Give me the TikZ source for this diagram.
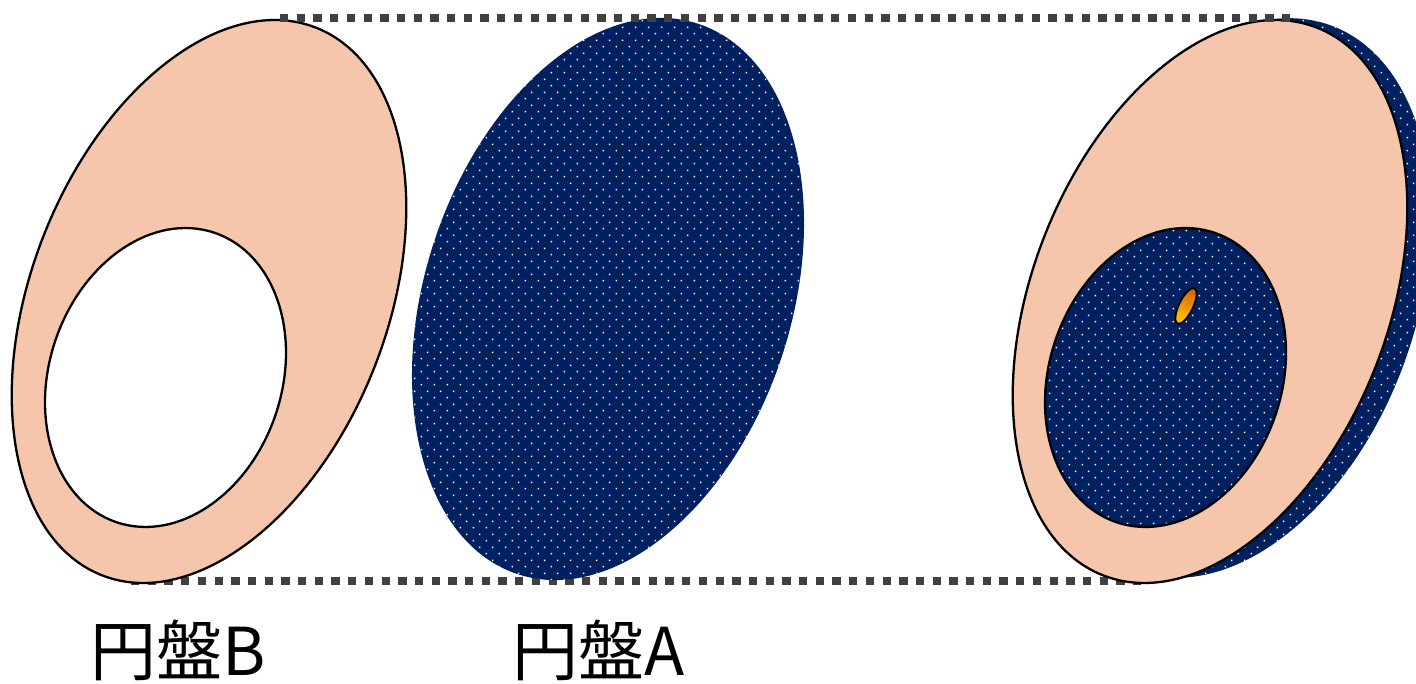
\documentclass[tikz,border=0pt]{standalone}
\usepackage{fontspec}
\newfontfamily\cjkfont{Noto Sans CJK JP}
\usetikzlibrary{patterns}

\definecolor{peach}{HTML}{F6C6AC}
\definecolor{navy}{HTML}{002060}
\definecolor{dashgray}{HTML}{404040}
\definecolor{gold}{HTML}{FFC000}
\definecolor{amber}{HTML}{D46A0C}

% staggered grid of small square dots
\pgfdeclarepatternformonly{staggereddots}{\pgfqpoint{0pt}{0pt}}{\pgfqpoint{12.7pt}{12.7pt}}{\pgfqpoint{12.7pt}{12.7pt}}{%
  \pgfpathrectangle{\pgfqpoint{0.6pt}{0.6pt}}{\pgfqpoint{1.6pt}{1.6pt}}%
  \pgfpathrectangle{\pgfqpoint{6.95pt}{6.95pt}}{\pgfqpoint{1.6pt}{1.6pt}}%
  \pgfusepath{fill}}

\tikzset{
  navydisc/.style={preaction={fill=navy}, pattern=staggereddots, pattern color=white},
  outlined/.style={draw=black, line width=2.3pt},
  peachdisc/.style={outlined, fill=peach},
  guide/.style={draw=dashgray, line width=8pt, dash pattern=on 8.3pt off 8.4pt},
  caption/.style={anchor=base west, inner sep=0pt, font=\cjkfont\fontsize{66}{66}\selectfont},
}

\begin{document}
\begin{tikzpicture}[x=1pt,y=1pt]
\useasboundingbox (0,0) rectangle (1416,683);

% lower guide line, lying under the discs
\coordinate (botL) at (131,102.5);
\coordinate (botR) at (1149,102.5);
\path[guide] (botL) -- (botR);

% disc B: ring with a hole
\path[peachdisc] (209,381.5) ellipse [x radius=294, y radius=178, rotate=68.7];
\path[outlined, fill=white] (165.5,305.5) ellipse [x radius=152.8, y radius=116.2, rotate=71.3];

% disc A
\path[navydisc] (608,384) ellipse [x radius=289.6, y radius=183.1, rotate=71.85];

% stacked view: A behind B, A showing through the hole
\path[navydisc] (1233,385) ellipse [x radius=289.6, y radius=183.1, rotate=70.5];
\path[peachdisc] (1210,381.5) ellipse [x radius=294, y radius=178, rotate=68.7];
\path[outlined, navydisc] (1165.5,305.5) ellipse [x radius=152.8, y radius=116.2, rotate=71.3];
\shade[draw=black, line width=1.8pt, top color=amber, bottom color=gold, shading angle=-26]
  (1186,377) ellipse [x radius=19.5, y radius=7, rotate=64];

% upper guide line
\coordinate (topL) at (280,665);
\coordinate (topR) at (1298,665);
\path[guide] (topL) -- (topR);

% captions
\node[caption] (labelB) at (90,8) {円盤B};
\node[caption] (labelA) at (512,8) {円盤A};
\end{tikzpicture}
\end{document}
